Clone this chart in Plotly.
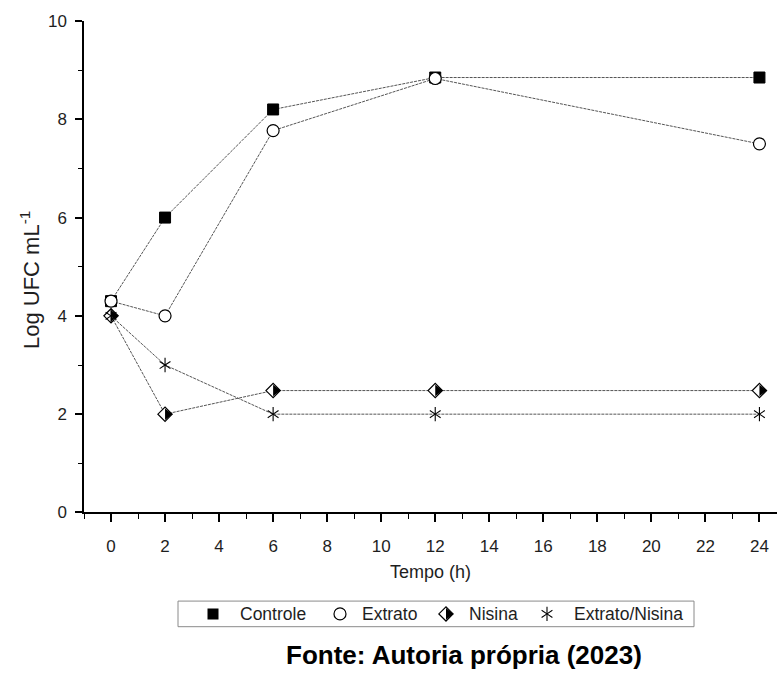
import plotly.graph_objects as go

# ---- data ----
tempo = [0, 2, 6, 12, 24]
controle = [4.3, 6.0, 8.2, 8.85, 8.85]
extrato = [4.3, 4.0, 7.77, 8.83, 7.5]
nisina = [4.0, 2.0, 2.48, 2.48, 2.48]
extrato_nisina = [4.0, 3.0, 2.0, 2.0, 2.0]
series_names = ["Controle", "Extrato", "Nisina", "Extrato/Nisina"]

# ---- layout constants ----
W, H = 777, 682
ML, MR, MT, MB = 84, 0, 21, 0
X_RANGE = [-1, 24.65]
Y_RANGE = [0, 10]
AXIS_BOTTOM_PX = 520
FONT = "Liberation Sans, Arial, sans-serif"
TXT = "#1e1e1e"
LINE = dict(color="#555555", width=1, dash="3px,1px")

plot_w = W - ML - MR
paper_h = H - MT - MB
px_per_unit = plot_w / (X_RANGE[1] - X_RANGE[0])
ydom0 = 1 - (AXIS_BOTTOM_PX - MT) / paper_h

def py(px):  # pixel y -> paper y
    return 1 - (px - MT) / paper_h

def pxx(px):  # pixel x -> paper x
    return (px - ML) / plot_w

DIA = 11
TRI = 10
tri_shift_px = TRI / 4.0
AST = 9

fig = go.Figure()

# Controle (under Extrato)
fig.add_trace(go.Scatter(x=tempo, y=controle, mode="lines+markers", line=LINE,
                         marker=dict(symbol="square", size=11, color="black",
                                     line=dict(color="black", width=1)),
                         showlegend=False))
# Nisina lines + open diamond with right half filled
fig.add_trace(go.Scatter(x=tempo, y=nisina, mode="lines+markers", line=LINE,
                         marker=dict(symbol="diamond", size=DIA, color="white",
                                     line=dict(color="black", width=1.2)),
                         showlegend=False))
fig.add_trace(go.Scatter(x=[t + tri_shift_px / px_per_unit for t in tempo], y=nisina,
                         mode="markers",
                         marker=dict(symbol="triangle-right", size=TRI, color="black",
                                     line=dict(width=0)),
                         showlegend=False, hoverinfo="skip"))
# Extrato/Nisina (six-armed asterisk)
fig.add_trace(go.Scatter(x=tempo, y=extrato_nisina, mode="lines+markers", line=LINE,
                         marker=dict(symbol="y-up-open", size=AST, color="black",
                                     line=dict(color="black", width=1.1)),
                         showlegend=False))
fig.add_trace(go.Scatter(x=tempo, y=extrato_nisina, mode="markers",
                         marker=dict(symbol="y-down-open", size=AST, color="black",
                                     line=dict(color="black", width=1.1)),
                         showlegend=False, hoverinfo="skip"))
# Extrato (on top)
fig.add_trace(go.Scatter(x=tempo, y=extrato, mode="lines+markers", line=LINE,
                         marker=dict(symbol="circle", size=12, color="white",
                                     line=dict(color="black", width=1.2)),
                         showlegend=False))

# ---- custom legend (x2/y2 in pixel units) ----
LEG_X0, LEG_X1, LEG_Y0, LEG_Y1 = 178, 694, 610, 636
leg_marker_x = [213, 340, 446, 547]
leg_text_x = [238, 360, 467, 572]

fig.add_trace(go.Scatter(x=[leg_marker_x[0]], y=[0.5], xaxis="x2", yaxis="y2", mode="markers",
                         marker=dict(symbol="square", size=11, color="black"),
                         showlegend=False, hoverinfo="skip"))
fig.add_trace(go.Scatter(x=[leg_marker_x[1]], y=[0.5], xaxis="x2", yaxis="y2", mode="markers",
                         marker=dict(symbol="circle", size=12, color="white",
                                     line=dict(color="black", width=1.2)),
                         showlegend=False, hoverinfo="skip"))
fig.add_trace(go.Scatter(x=[leg_marker_x[2]], y=[0.5], xaxis="x2", yaxis="y2", mode="markers",
                         marker=dict(symbol="diamond", size=DIA, color="white",
                                     line=dict(color="black", width=1.2)),
                         showlegend=False, hoverinfo="skip"))
fig.add_trace(go.Scatter(x=[leg_marker_x[2] + tri_shift_px], y=[0.5], xaxis="x2", yaxis="y2",
                         mode="markers",
                         marker=dict(symbol="triangle-right", size=TRI, color="black",
                                     line=dict(width=0)),
                         showlegend=False, hoverinfo="skip"))
for sym in ["y-up-open", "y-down-open"]:
    fig.add_trace(go.Scatter(x=[leg_marker_x[3]], y=[0.5], xaxis="x2", yaxis="y2", mode="markers",
                             marker=dict(symbol=sym, size=AST, color="black",
                                         line=dict(color="black", width=1.1)),
                             showlegend=False, hoverinfo="skip"))

annotations = []
for name, tx in zip(series_names, leg_text_x):
    annotations.append(dict(x=tx, y=0.5, xref="x2", yref="y2", text=name, showarrow=False,
                            xanchor="left", yanchor="middle",
                            font=dict(family=FONT, size=17.5, color=TXT)))

# axis titles and source
annotations.append(dict(x=0.5, y=py(580), xref="paper", yref="paper", text="Tempo (h)",
                        showarrow=False, xanchor="center", yanchor="middle",
                        font=dict(family=FONT, size=18, color=TXT)))
annotations.append(dict(x=pxx(30), y=py(284), xref="paper", yref="paper",
                        text="Log UFC mL<sup>-1</sup>", textangle=-90,
                        showarrow=False, xanchor="center", yanchor="middle",
                        font=dict(family=FONT, size=22, color=TXT)))
annotations.append(dict(x=pxx(464), y=py(665), xref="paper", yref="paper",
                        text="<b>Fonte: Autoria própria (2023)</b>",
                        showarrow=False, xanchor="center", yanchor="middle",
                        font=dict(family=FONT, size=26, color="black")))

fig.update_layout(
    width=W, height=H,
    margin=dict(l=ML, r=MR, t=MT, b=MB, pad=0),
    paper_bgcolor="white", plot_bgcolor="white",
    showlegend=False,
    xaxis=dict(range=X_RANGE, domain=[0, 1], anchor="y",
               tick0=0, dtick=2, ticks="outside", ticklen=8, tickwidth=1.5,
               tickcolor="black", showline=True, linecolor="black", linewidth=1.5,
               showgrid=False, zeroline=False, ticklabelstandoff=9,
               tickfont=dict(family=FONT, size=17, color=TXT),
               minor=dict(dtick=1, tick0=0, ticks="outside", ticklen=5, tickwidth=1.2,
                          tickcolor="black", showgrid=False)),
    yaxis=dict(range=Y_RANGE, domain=[ydom0, 1], anchor="x",
               tick0=0, dtick=2, ticks="outside", ticklen=7, tickwidth=1.5,
               tickcolor="black", showline=True, linecolor="black", linewidth=1.5,
               showgrid=False, zeroline=False, ticklabelstandoff=5,
               tickfont=dict(family=FONT, size=17, color=TXT),
               minor=dict(dtick=1, tick0=0, ticks="outside", ticklen=4, tickwidth=1.2,
                          tickcolor="black", showgrid=False)),
    xaxis2=dict(domain=[pxx(LEG_X0), pxx(LEG_X1)], range=[LEG_X0, LEG_X1], anchor="y2",
                visible=False, fixedrange=True),
    yaxis2=dict(domain=[py(LEG_Y1), py(LEG_Y0)], range=[0, 1], anchor="x2",
                visible=False, fixedrange=True),
    shapes=[dict(type="rect", xref="x2 domain", yref="y2 domain", x0=0, x1=1, y0=0, y1=1,
                 line=dict(color="#8a8a8a", width=1), fillcolor="rgba(0,0,0,0)")],
    annotations=annotations,
)

fig.write_html("out.html")
